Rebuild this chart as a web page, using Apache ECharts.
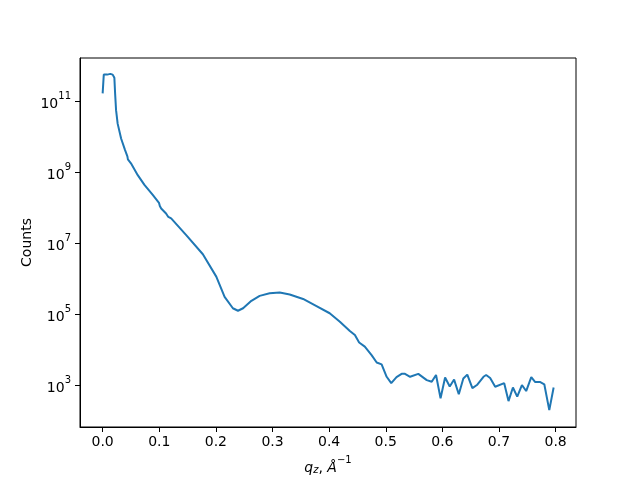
<!doctype html>
<html>
	<head>
		<meta charset="utf-8">
		<title>Reflectivity counts (ECharts)</title>
		<style>html, body { margin: 0; padding: 0; background: #fff; }</style>
	</head>
	<body>
		<script src="https://cdn.jsdelivr.net/npm/echarts@6/dist/echarts.min.js"></script>

		<div id="chart" style="width: 640px; height: 480px;"></div>

		<script>
			const qz = [
				0.000, 0.002, 0.008, 0.0136, 0.0177, 0.0207, 0.022, 0.0237, 0.0265, 0.0326,
				0.0396, 0.0437, 0.0446, 0.046, 0.050, 0.062, 0.0738, 0.0885, 0.0995, 0.101,
				0.1034, 0.112, 0.116, 0.1186, 0.121, 0.1476, 0.177, 0.2007, 0.2154, 0.230,
				0.239, 0.248, 0.2627, 0.2773, 0.295, 0.3127, 0.3304, 0.354, 0.3777, 0.401,
				0.419, 0.4366, 0.4455, 0.453, 0.463, 0.475, 0.484, 0.4927, 0.5016, 0.5097,
				0.519, 0.528, 0.534, 0.543, 0.5575, 0.5724, 0.5812, 0.5888, 0.5968, 0.6048,
				0.613, 0.6207, 0.629, 0.637, 0.644, 0.653, 0.661, 0.6726, 0.6773, 0.6844,
				0.6933, 0.7092, 0.7168, 0.7246, 0.7322, 0.7405, 0.748, 0.757, 0.764, 0.773,
				0.780, 0.7888, 0.7965
			];
			const counts = [
				1.66e11, 5.62e11, 5.62e11, 5.89e11, 5.62e11, 4.57e11, 1.66e11, 5.6e10, 2.34e10, 8.9e9,
				4.2e9, 2.8e9, 2.3e9, 2.4e9, 1.78e9, 8.3e8, 4.4e8, 2.3e8, 1.38e8, 1.12e8,
				9.5e7, 6.9e7, 5.5e7, 5.9e7, 5.0e7, 1.7e7, 4.9e6, 1.15e6, 3.1e5, 1.48e5,
				1.26e5, 1.48e5, 2.4e5, 3.3e5, 3.9e5, 4.1e5, 3.6e5, 2.7e5, 1.7e5, 1.07e5,
				6.2e4, 3.4e4, 2.6e4, 1.6e4, 1.23e4, 7.1e3, 4.4e3, 3.9e3, 1.74e3, 1.15e3,
				1.7e3, 2.1e3, 2.1e3, 1.74e3, 2.1e3, 1.4e3, 1.26e3, 1.95e3, 430, 1.66e3,
				930, 1.45e3, 560, 1.55e3, 2.0e3, 830, 1.02e3, 1.74e3, 1.95e3, 1.6e3,
				910, 1.15e3, 360, 870, 480, 1.02e3, 690, 1.7e3, 1.23e3, 1.23e3,
				1.07e3, 200, 870
			];
			const xTicks = [0, 0.1, 0.2, 0.3, 0.4, 0.5, 0.6, 0.7, 0.8];
			const yTicks = [1e3, 1e5, 1e7, 1e9, 1e11];

			const font = "DejaVu Sans";

			let myChart = echarts.init(document.getElementById("chart"), null, {
				width: 640,
				height: 480
			});

			let opts = {
				animation: false,
				grid: {
					left: 80,
					right: 64,
					top: 58,
					bottom: 53,
					show: true,
					borderColor: "#000",
					borderWidth: 1,
					backgroundColor: "transparent"
				},
				xAxis: {
					type: "value",
					min: -0.04,
					max: 0.836,
					name: "{q|q}{sub|z}{t|, }{q|Å}{sup|\u22121}",
					nameLocation: "middle",
					nameGap: 28,
					nameTextStyle: {
						fontFamily: font,
						rich: {
							q: { fontFamily: font, fontSize: 14, fontStyle: "italic", verticalAlign: "bottom", lineHeight: 20 },
							t: { fontFamily: font, fontSize: 14, verticalAlign: "bottom", lineHeight: 20 },
							sub: { fontFamily: font, fontSize: 10, fontStyle: "italic", verticalAlign: "bottom", lineHeight: 16 },
							sup: { fontFamily: font, fontSize: 10, verticalAlign: "top", lineHeight: 20 }
						}
					},
					splitLine: { show: false },
					axisLine: { show: true, onZero: false, lineStyle: { color: "#000", width: 1 } },
					axisTick: { show: true, customValues: xTicks, length: 5, lineStyle: { color: "#000", width: 1 } },
					axisLabel: {
						customValues: xTicks,
						formatter: v => v.toFixed(1),
						fontFamily: font,
						fontSize: 14,
						color: "#000",
						margin: 8
					}
				},
				yAxis: {
					type: "log",
					logBase: 10,
					min: 67,
					max: 1.65e12,
					name: "Counts",
					nameLocation: "middle",
					nameGap: 46,
					nameMoveOverlap: false,
					nameTextStyle: { fontFamily: font, fontSize: 14, color: "#000" },
					splitLine: { show: false },
					minorTick: { show: false },
					axisLine: { show: true, onZero: false, lineStyle: { color: "#000", width: 1 } },
					axisTick: { show: true, customValues: yTicks, length: 5, lineStyle: { color: "#000", width: 1 } },
					axisLabel: {
						customValues: yTicks,
						formatter: v => "{b|10}{s|" + Math.round(Math.log10(v)) + "}",
						margin: 9,
						color: "#000",
						rich: {
							b: { fontFamily: font, fontSize: 14, color: "#000", verticalAlign: "bottom", lineHeight: 20 },
							s: { fontFamily: font, fontSize: 10, color: "#000", verticalAlign: "top", lineHeight: 20 }
						}
					}
				},
				series: [
					{
						type: "line",
						showSymbol: false,
						data: qz.map((q, i) => [q, counts[i]]),
						lineStyle: { width: 2, color: "#1f77b4" },
						itemStyle: { color: "#1f77b4" }
					}
				]
			};

			myChart.setOption(opts);
		</script>
	</body>
</html>
